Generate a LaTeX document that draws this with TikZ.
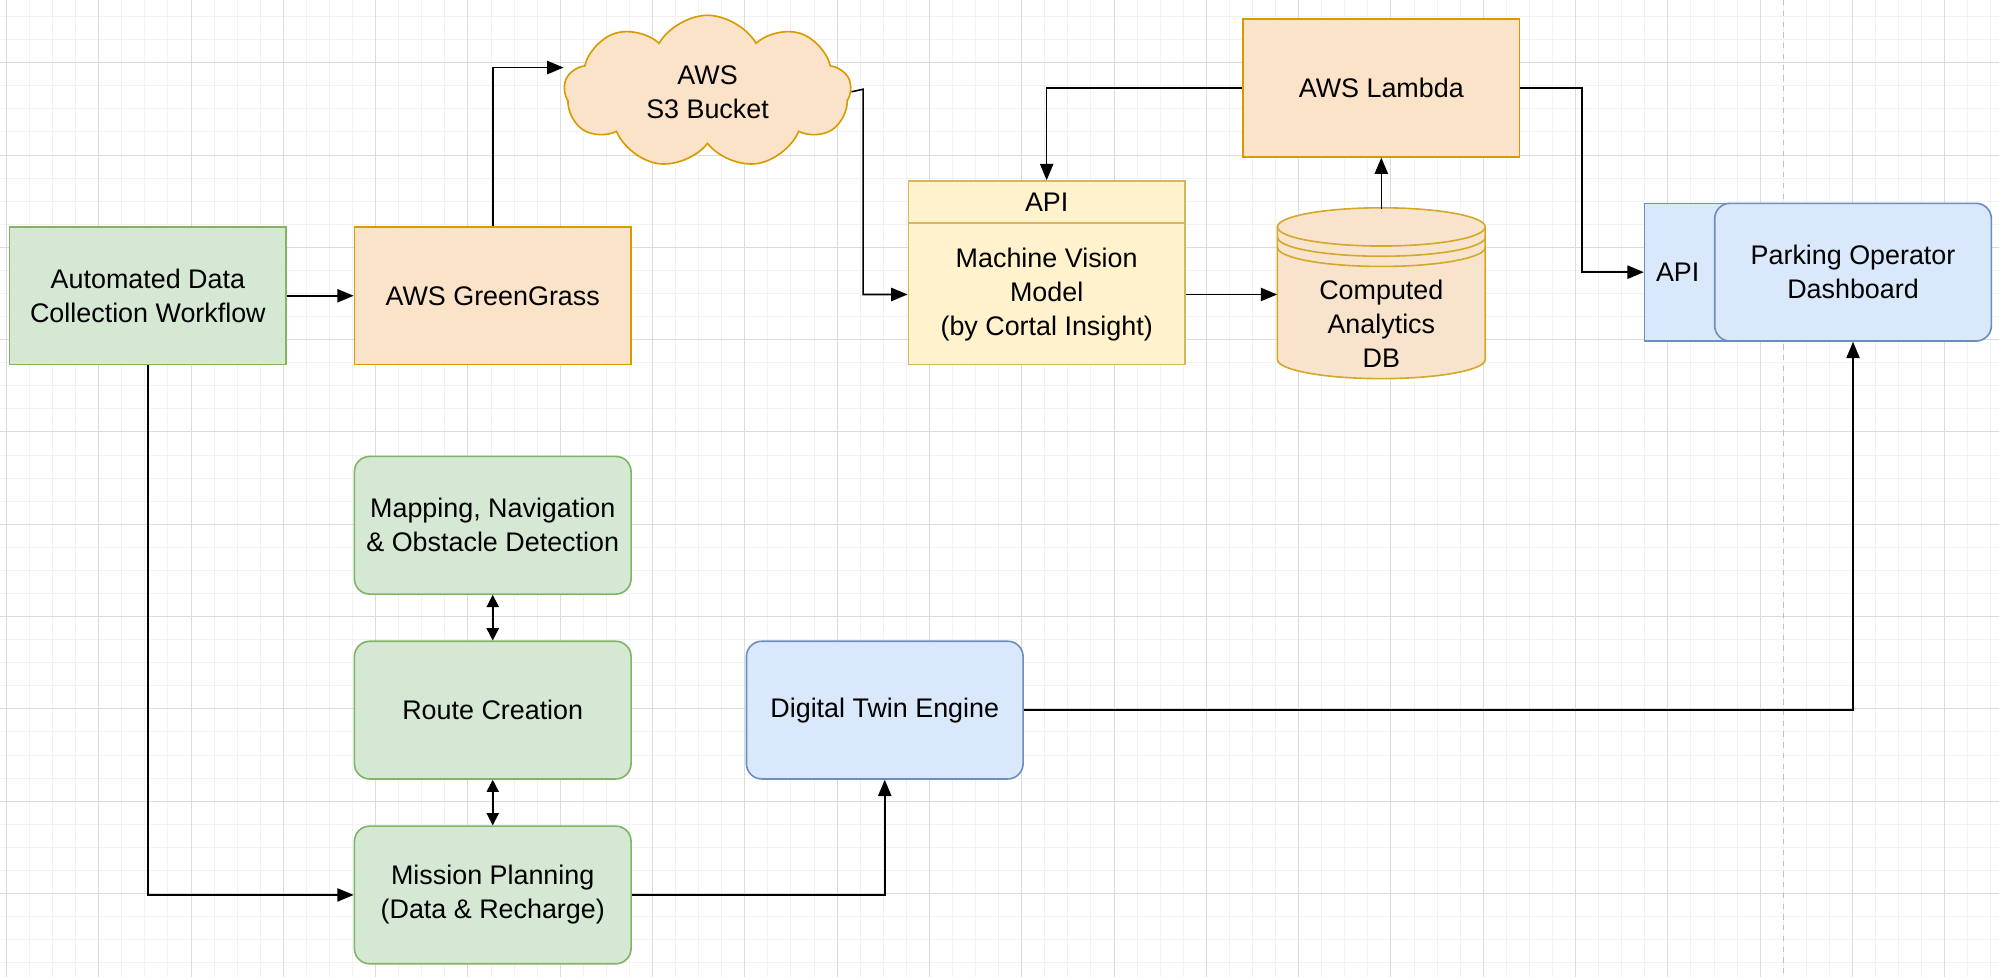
\documentclass[tikz,border=0pt]{standalone}
\usepackage{fontspec}
\setmainfont{Liberation Sans}
\usetikzlibrary{arrows.meta,shapes.symbols}
\definecolor{gfill}{HTML}{D5E8D4}\definecolor{gdraw}{HTML}{82B366}
\definecolor{ofill}{HTML}{FAE3C8}\definecolor{odraw}{HTML}{D79B00}
\definecolor{yfill}{HTML}{FFF2CC}\definecolor{ydraw}{HTML}{D6B656}
\definecolor{bfill}{HTML}{DAE8FC}\definecolor{bdraw}{HTML}{6C8EBF}
\definecolor{cfill}{HTML}{F8E4CC}\definecolor{cdraw}{HTML}{D4A82A}
\begin{document}
\begin{tikzpicture}[x=0.025cm,y=-0.025cm,
  box/.style={draw,line width=0.9pt,minimum width=217*0.025cm,minimum height=108*0.025cm,align=center,font=\fontsize{15}{19}\selectfont,inner sep=2pt},
  green/.style={box,fill=gfill,draw=gdraw},
  orange/.style={box,fill=ofill,draw=odraw},
  blue/.style={box,fill=bfill,draw=bdraw},
  rnd/.style={rounded corners=0.3cm},
  conn/.style={line width=0.9pt,-{Triangle[length=0.32cm,width=0.26cm]}},
  dconn/.style={line width=0.9pt,{Triangle[length=0.24cm,width=0.24cm]}-{Triangle[length=0.24cm,width=0.24cm]}}]
\useasboundingbox (0,0) rectangle (1568,766);
\fill[white] (0,0) rectangle (1568,766);
% grid
\foreach \i in {-1,...,87} \draw[black!5,line width=0.5pt] (5+\i*18.1,0) -- (5+\i*18.1,766);
\foreach \i in {-3,...,43} \draw[black!5,line width=0.5pt] (0,49.2+\i*18.1) -- (1568,49.2+\i*18.1);
\foreach \i in {0,...,21} \draw[black!14,line width=0.5pt] (5+\i*72.4,0) -- (5+\i*72.4,766);
\foreach \i in {-1,...,10} \draw[black!14,line width=0.5pt] (0,49.2+\i*72.4) -- (1568,49.2+\i*72.4);
\draw[black!25,dashed,line width=0.8pt] (1399,0) -- (1399,766);

\node[green] (adc) at (116,232) {Automated Data\\Collection Workflow};
\node[orange] (gg) at (386.5,232) {AWS GreenGrass};
\node[cloud,cloud puffs=9,cloud puff arc=120,aspect=1.9,draw=odraw,fill=ofill,line width=0.9pt,minimum width=225*0.025cm,minimum height=120*0.025cm,align=center,font=\fontsize{15}{19}\selectfont,inner sep=0pt] (s3) at (555,72) {AWS\\S3 Bucket};
% API / MV
\node[box,fill=yfill,draw=ydraw,minimum height=144*0.025cm] (mv) at (821,214) {};
\draw[ydraw,line width=0.9pt] (712,175) -- (930,175);
\node[font=\fontsize{15}{19}\selectfont] (apit) at (821,159) {API};
\node[font=\fontsize{15}{19}\selectfont,align=center] (mvt) at (821,231) {Machine Vision\\Model\\(by Cortal Insight)};
% cylinder
\node[minimum width=163*0.025cm,minimum height=134*0.025cm] (db) at (1083.5,231) {};
\draw[cdraw,fill=cfill,line width=0.9pt] (1002,178) -- (1002,282) arc[start angle=180,end angle=0,x radius=81.5,y radius=15] -- (1165,178) arc[start angle=0,end angle=-180,x radius=81.5,y radius=15] -- cycle;
\draw[cdraw,line width=0.9pt] (1002,178) arc[start angle=180,end angle=0,x radius=81.5,y radius=15];
\draw[cdraw,line width=0.9pt] (1002,186) arc[start angle=180,end angle=0,x radius=81.5,y radius=15];
\draw[cdraw,line width=0.9pt] (1002,194) arc[start angle=180,end angle=0,x radius=81.5,y radius=15];
\node[font=\fontsize{15}{19}\selectfont,align=center] (dbt) at (1083.5,254) {Computed\\Analytics\\DB};
\node[orange] (lam) at (1083.5,69) {AWS Lambda};
% API + dashboard
\node[blue,minimum width=110*0.025cm] (api) at (1345,213.5) {};
\node[anchor=west,font=\fontsize{15}{19}\selectfont] (apil) at (1294,213.5) {API};
\node[blue,rnd] (dash) at (1453.5,213.5) {Parking Operator\\Dashboard};
% lower
\node[green,rnd] (map) at (386.5,412) {Mapping, Navigation\\\& Obstacle Detection};
\node[green,rnd] (route) at (386.5,557) {Route Creation};
\node[green,rnd] (miss) at (386.5,702) {Mission Planning\\(Data \& Recharge)};
\node[blue,rnd] (dt) at (694,557) {Digital Twin Engine};
\coordinate (s3in) at (442,53);
% connectors
\draw[conn] (adc) -- (gg);
\draw[conn] (gg.north) |- (s3in);
\draw[conn] (s3.east) -- (677,70) |- (db.west -| mv.west);
\draw[conn] (db.west -| mv.east) -- (db.west);
\draw[conn] (db.north) -- (lam.south);
\draw[conn] (lam.west) -| (mv.north);
\draw[conn] (lam.east) -- (1241,69) |- (api.west);
\draw[conn] (adc.south) |- (miss.west);
\draw[dconn] (map.south) -- (route.north);
\draw[dconn] (route.south) -- (miss.north);
\draw[conn] (miss.east) -| (dt.south);
\draw[conn] (dt.east) -| (dash.south);
\end{tikzpicture}
\end{document}
